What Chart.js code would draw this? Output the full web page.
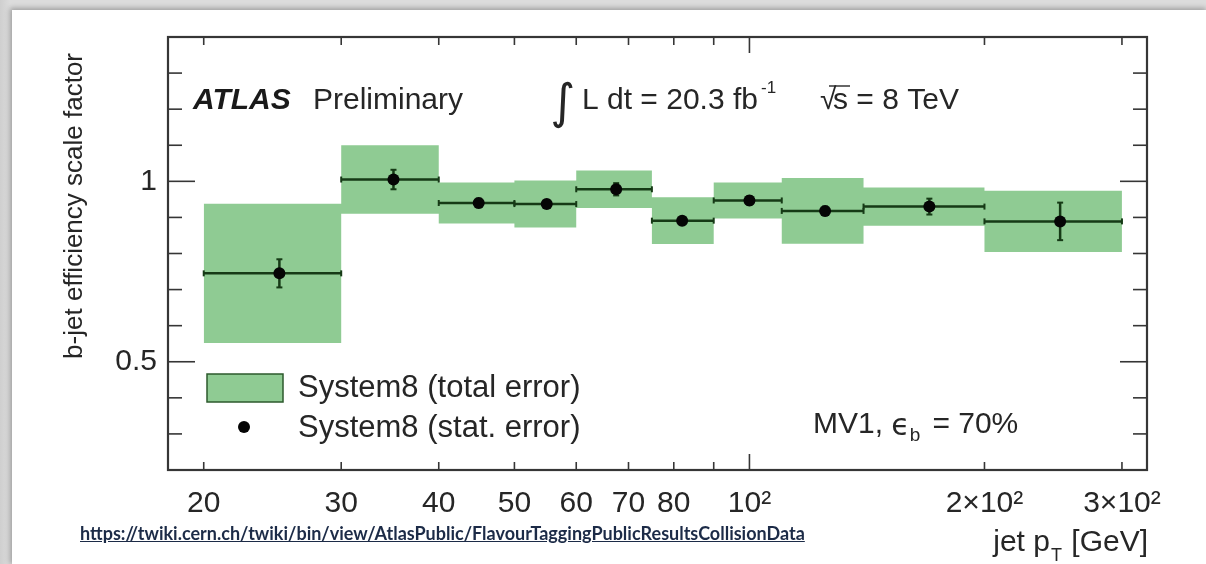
<!DOCTYPE html>
<html>
<head>
<meta charset="utf-8">
<script src="https://cdn.jsdelivr.net/npm/chart.js@4.4.1/dist/chart.umd.min.js"></script>
<style>
  html, body { margin: 0; padding: 0; }
  body { width: 1206px; height: 564px; overflow: hidden; position: relative;
         background: linear-gradient(90deg, #cfcfcf 0px, #dcdcdc 10px, #dcdcdc 100%); }
  #card { position: absolute; left: 12px; top: 10px; width: 1194px; height: 554px; background: #fff;
          box-shadow: -1px -1px 5px 1px rgba(0,0,0,0.28); }
  #plot { position: absolute; left: 0; top: 0; }
  #src { position: absolute; left: 80px; top: 522px; line-height: 22px;
         font: bold 18px Lato, "Open Sans", sans-serif; color: #1c2b47; text-decoration: underline; white-space: nowrap; }
</style>
</head>
<body>
<div id="card"></div>
<canvas id="plot" width="1206" height="564"></canvas>
<div id="src">https://twiki.cern.ch/twiki/bin/view/AtlasPublic/FlavourTaggingPublicResultsCollisionData</div>
<script>
// jet pT bins [GeV]
const binLow  = [20, 30, 40, 50, 60, 75, 90, 110, 140, 200];
const binHigh = [30, 40, 50, 60, 75, 90, 110, 140, 200, 300];
// mean jet pT inside each bin, where the marker sits
const meanPt  = [25, 35, 45, 55, 67.5, 82, 100, 125, 170, 250];
// b-jet efficiency scale factor (System8) with its errors
const scaleFactor = [0.745, 1.005, 0.940, 0.937, 0.978, 0.891, 0.947, 0.918, 0.930, 0.889];
const statError   = [0.039, 0.027, 0.012, 0.010, 0.017, 0.010, 0.012, 0.012, 0.022, 0.052];
const totalError  = [0.193, 0.095, 0.057, 0.065, 0.052, 0.065, 0.050, 0.091, 0.053, 0.085];

// axis ticks
const xTickValues = [20, 30, 40, 50, 60, 70, 80, 90, 100, 200, 300];
const xTickLabels = ['20', '30', '40', '50', '60', '70', '80', '', '10²', '2×10²', '3×10²'];
const xMajorTicks = [100];
const yTickValues = [0.5, 1];
const yTickLabels = ['0.5', '1'];
const yMinorTicks = [0.3, 0.4, 0.6, 0.7, 0.8, 0.9, 1.1, 1.2, 1.3];

const GREEN = '#8fcb93';
const DARK = '#163a16';
const INK = '#262626';
const SANS = '"Liberation Sans", Arial, Helvetica, sans-serif';

const upperEdge = binLow.flatMap((lo, i) => [
  { x: lo, y: scaleFactor[i] + totalError[i] }, { x: binHigh[i], y: scaleFactor[i] + totalError[i] }]);
const lowerEdge = binLow.flatMap((lo, i) => [
  { x: lo, y: scaleFactor[i] - totalError[i] }, { x: binHigh[i], y: scaleFactor[i] - totalError[i] }]);
const binLines = binLow.flatMap((lo, i) => [
  { x: lo, y: scaleFactor[i] }, { x: binHigh[i], y: scaleFactor[i] }, { x: binHigh[i], y: null }]);
const statBars = meanPt.flatMap((x, i) => [
  { x, y: scaleFactor[i] - statError[i] }, { x, y: scaleFactor[i] + statError[i] }, { x, y: null }]);
const centres = meanPt.map((x, i) => ({ x, y: scaleFactor[i] }));

function text(ctx, s, x, y, font, align = 'left', color = INK) {
  ctx.font = font; ctx.fillStyle = color; ctx.textAlign = align; ctx.textBaseline = 'middle';
  ctx.fillText(s, x, y);
  return ctx.measureText(s).width;
}
function seg(ctx, x1, y1, x2, y2) { ctx.beginPath(); ctx.moveTo(x1, y1); ctx.lineTo(x2, y2); ctx.stroke(); }

const frameAndLabels = {
  id: 'frameAndLabels',
  afterDatasetsDraw(chart) {
    const ctx = chart.ctx, a = chart.chartArea, xs = chart.scales.x, ys = chart.scales.y;
    ctx.save();
    ctx.strokeStyle = '#363636';
    ctx.lineWidth = 1.6;
    for (const v of yMinorTicks) {
      const p = ys.getPixelForValue(v);
      seg(ctx, a.left, p, a.left + 14, p); seg(ctx, a.right, p, a.right - 14, p);
    }
    for (const v of yTickValues) {
      const p = ys.getPixelForValue(v);
      seg(ctx, a.left, p, a.left + 27, p); seg(ctx, a.right, p, a.right - 27, p);
    }
    for (const v of xTickValues) {
      const p = xs.getPixelForValue(v);
      const len = xMajorTicks.includes(v) ? 16 : 8;
      seg(ctx, p, a.bottom, p, a.bottom - len); seg(ctx, p, a.top, p, a.top + len);
    }
    ctx.lineWidth = 2.2;
    ctx.strokeRect(a.left, a.top, a.right - a.left, a.bottom - a.top);
    ctx.restore();
  },
  afterDraw(chart) {
    const ctx = chart.ctx;
    ctx.save();
    // experiment label
    text(ctx, 'ATLAS', 193, 101, `italic bold 30px ${SANS}`, 'left', '#1a1a1a');
    text(ctx, 'Preliminary', 313, 101, `30px ${SANS}`);
    // integrated luminosity and energy
    text(ctx, '∫', 563, 106, '48px "DejaVu Sans", sans-serif', 'center');
    let w = text(ctx, 'L dt = 20.3 fb', 582, 101, `30px ${SANS}`);
    text(ctx, '-1', 582 + w + 3, 88, `17px ${SANS}`);
    text(ctx, '√', 820, 101, `30px ${SANS}`);
    w = text(ctx, 's = 8 TeV', 833, 101, `30px ${SANS}`);
    ctx.strokeStyle = INK; ctx.lineWidth = 1.4;
    seg(ctx, 829, 86, 850, 86);
    // tagger working point
    let x = 813;
    x += text(ctx, 'MV1, ', x, 425, `30px ${SANS}`);
    x += text(ctx, 'ϵ', x, 427, `30px "DejaVu Sans", sans-serif`);
    x += text(ctx, 'b', x, 436, `19px ${SANS}`) + 12;
    text(ctx, '= 70%', x, 425, `30px ${SANS}`);
    // legend
    ctx.fillStyle = GREEN; ctx.fillRect(207, 374, 76, 28);
    ctx.strokeStyle = '#2c5a2c'; ctx.lineWidth = 1.5; ctx.strokeRect(207, 374, 76, 28);
    text(ctx, 'System8 (total error)', 298, 388, `31px ${SANS}`);
    ctx.fillStyle = '#050505'; ctx.beginPath(); ctx.arc(244, 427, 6, 0, Math.PI * 2); ctx.fill();
    text(ctx, 'System8 (stat. error)', 298, 428, `31px ${SANS}`);
    // axis titles
    ctx.save();
    ctx.translate(75, 53); ctx.rotate(-Math.PI / 2);
    text(ctx, 'b-jet efficiency scale factor', 0, 0, `26px ${SANS}`, 'right');
    ctx.restore();
    ctx.font = `30px ${SANS}`;
    const wGeV = ctx.measureText(' [GeV]').width;
    ctx.font = `18px ${SANS}`;
    const wT = ctx.measureText('T').width;
    let xr = 1148;
    text(ctx, ' [GeV]', xr, 543, `30px ${SANS}`, 'right');
    xr -= wGeV;
    text(ctx, 'T', xr - 1, 556, `18px ${SANS}`, 'right');
    xr -= wT + 2;
    text(ctx, 'jet p', xr, 543, `30px ${SANS}`, 'right');
    ctx.restore();
  }
};

new Chart(document.getElementById('plot'), {
  type: 'line',
  data: {
    datasets: [
      { label: 'System8 (stat. error)', data: centres, showLine: false, order: 0,
        pointRadius: 6, pointBackgroundColor: '#050505', pointBorderWidth: 0 },
      { label: 'stat bars', data: statBars, order: 1, borderColor: DARK, borderWidth: 2.5,
        pointStyle: 'line', pointRotation: 0, pointRadius: 3, pointBorderColor: DARK, pointBorderWidth: 2 },
      { label: 'bin widths', data: binLines, order: 2, borderColor: DARK, borderWidth: 2.5,
        pointStyle: 'line', pointRotation: 90, pointRadius: 3, pointBorderColor: DARK, pointBorderWidth: 2 },
      { label: 'System8 (total error)', data: upperEdge, order: 3, fill: '+1', backgroundColor: GREEN,
        borderColor: 'rgba(0,0,0,0)', borderWidth: 0, pointRadius: 0 },
      { label: 'total lower', data: lowerEdge, order: 4, fill: false,
        borderColor: 'rgba(0,0,0,0)', borderWidth: 0, pointRadius: 0 }
    ]
  },
  options: {
    responsive: false,
    animation: false,
    layout: { padding: 0 },
    plugins: { legend: { display: false }, tooltip: { enabled: false }, filler: { drawTime: 'beforeDatasetsDraw' } },
    scales: {
      x: {
        type: 'logarithmic', position: 'bottom', min: 18, max: 323,
        afterFit: s => { s.height = 94; },
        afterBuildTicks: s => { s.ticks = xTickValues.map(v => ({ value: v })); },
        ticks: { autoSkip: false, maxRotation: 0, minRotation: 0, padding: 16, color: INK,
                 font: { family: SANS, size: 30 }, callback: (v, i) => xTickLabels[i] },
        grid: { display: false, drawTicks: false }, border: { display: false }
      },
      xTop: {
        type: 'logarithmic', position: 'top', min: 18, max: 323,
        afterFit: s => { s.height = 37; },
        ticks: { display: false }, grid: { display: false, drawTicks: false }, border: { display: false }
      },
      y: {
        type: 'linear', position: 'left', min: 0.2, max: 1.4,
        afterFit: s => { s.width = 168; },
        afterBuildTicks: s => { s.ticks = yTickValues.map(v => ({ value: v })); },
        ticks: { padding: 11, color: INK, font: { family: SANS, size: 30 }, callback: (v, i) => yTickLabels[i] },
        grid: { display: false, drawTicks: false }, border: { display: false }
      },
      yRight: {
        type: 'linear', position: 'right', min: 0.2, max: 1.4,
        afterFit: s => { s.width = 59; },
        ticks: { display: false }, grid: { display: false, drawTicks: false }, border: { display: false }
      }
    }
  },
  plugins: [frameAndLabels]
});
</script>
</body>
</html>
